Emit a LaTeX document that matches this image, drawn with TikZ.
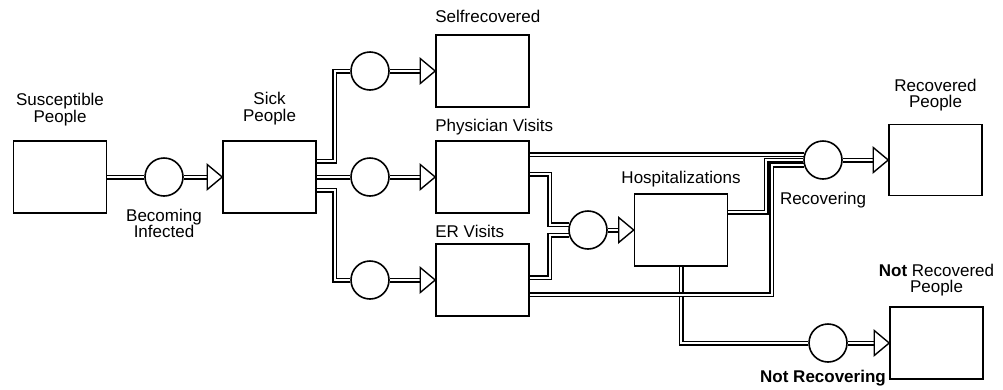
\documentclass[tikz,border=0pt]{standalone}
\usepackage{fontspec}
\setmainfont{Liberation Sans}
\usetikzlibrary{positioning, backgrounds}

\begin{document}
\begin{tikzpicture}[
        x=1pt, y=-1pt,
        stock/.style={draw, line width=1.6pt, fill=white, minimum width=93pt, minimum height=72pt, inner sep=0pt},
        valve/.style={circle, draw, line width=1.6pt, fill=white, minimum size=38pt, inner sep=0pt},
        pipe/.style={draw, line width=1.5pt, double=white, double distance=2pt},
        caption/.style={font=\fontsize{17}{17}\selectfont, inner sep=0pt, align=center},
        inlet/.pic={\draw[line width=1.4pt, fill=white] (-15,-12.5) -- (0,0) -- (-15,12.5) -- cycle;}
    ]
        \useasboundingbox (0,0) rectangle (1003,389);

        % stocks
        \node[stock] (susc) at (60,177) {};
        \node[stock] (sick) at (269.5,177) {};
        \node[stock] (selfrec) at (482.5,71) {};
        \node[stock] (phys) at (482.5,177) {};
        \node[stock] (er) at (482.5,280) {};
        \node[stock] (hosp) at (681,230) {};
        \node[stock, minimum height=71pt] (recov) at (935.5,160) {};
        \node[stock] (notrec) at (936.5,343) {};

        % valves
        \node[valve] (infect) at (164,177) {};
        \node[valve] (selfv) at (370,71) {};
        \node[valve] (physv) at (370,177) {};
        \node[valve] (erv) at (370,280) {};
        \node[valve] (hospv) at (588,230) {};
        \node[valve] (recv) at (823,160) {};
        \node[valve] (notrecv) at (828,343) {};

        % labels
        \node[caption, above=14pt of susc] (susclbl) {Susceptible\\People};
        \node[caption, above=15pt of sick] (sicklbl) {Sick\\People};
        \node[caption, anchor=base west] (selfreclbl) at ([yshift=12pt]selfrec.north west) {Selfrecovered};
        \node[caption, anchor=base west] (physlbl) at ([yshift=9pt]phys.north west) {Physician Visits};
        \node[caption, anchor=base west] (erlbl) at ([yshift=6pt]er.north west) {ER Visits};
        \node[caption, anchor=base] (hosplbl) at ([yshift=10pt]hosp.north) {Hospitalizations};
        \node[caption, font=\fontsize{17}{16}\selectfont, above=12pt of recov] (recovlbl) {Recovered\\People};
        \node[caption, font=\fontsize{17}{16}\selectfont, above=10pt of notrec] (notreclbl) {\textbf{Not} Recovered\\People};
        \node[caption, font=\fontsize{17}{16}\selectfont, below=12pt of infect] (infectlbl) {Becoming\\Infected};
        \node[caption, below=12pt of recv] (recvlbl) {Recovering};
        \node[caption, below=7pt of notrecv, xshift=-5pt] (notrecvlbl) {\bfseries Not Recovering};

        % flows
        \begin{scope}[on background layer]
            \draw[pipe] (susc.east) -- (infect.west);
            \draw[pipe] (infect.east) -- ([xshift=-15pt]sick.west);
            \draw[pipe] ([yshift=16pt]sick.east) -- ++(18,0) |- (selfv.west);
            \draw[pipe] (sick.east) -- (physv.west);
            \draw[pipe] ([yshift=-13pt]sick.east) -- ++(18,0) |- (erv.west);
            \draw[pipe] (selfv.east) -- ([xshift=-15pt]selfrec.west);
            \draw[pipe] (physv.east) -- ([xshift=-15pt]phys.west);
            \draw[pipe] (erv.east) -- ([xshift=-15pt]er.west);
            \draw[pipe] ([yshift=3pt]phys.east) -- ++(20,0) |- (hospv.165);
            \draw[pipe] ([yshift=2.5pt]er.east) -- ++(20,0) |- (hospv.195);
            \draw[pipe] (hospv.east) -- ([xshift=-15pt]hosp.west);
            \draw[pipe] (phys.east |- recv.165) -- (recv.165);
            \draw[pipe] ([yshift=18pt]hosp.east) -- ++(38,0) |- (recv.west);
            \draw[pipe] (hosp.south) |- (notrecv.west);
            \draw[pipe] ([yshift=-14.5pt]er.east) -- ++(242,0) |- (recv.195);
            \draw[pipe] (recv.east) -- ([xshift=-15pt]recov.west);
            \draw[pipe] (notrecv.east) -- ([xshift=-15pt]notrec.west);
        \end{scope}

        % inflow tips
        \pic at (sick.west) {inlet};
        \pic at (selfrec.west) {inlet};
        \pic at (phys.west) {inlet};
        \pic at (er.west) {inlet};
        \pic at (hosp.west) {inlet};
        \pic at (recov.west) {inlet};
        \pic at (notrec.west) {inlet};
    \end{tikzpicture}
\end{document}
